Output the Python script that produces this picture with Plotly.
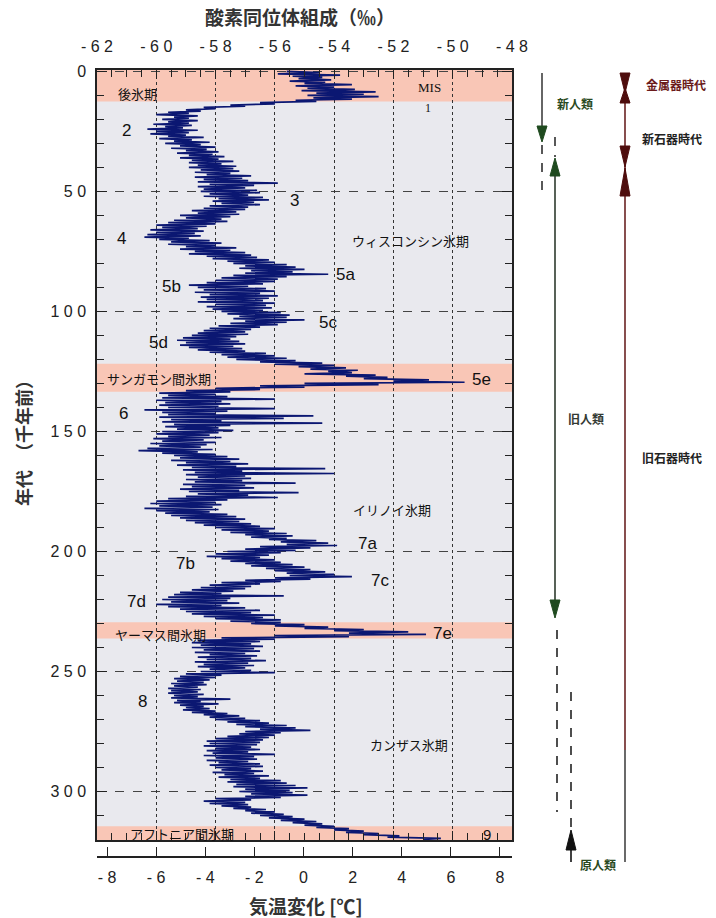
import plotly.graph_objects as go

# ---------------- data ----------------
# The record is read as a dense zig-zag: a left-side value at every whole ky
# and a right-side value at every half ky (‰, oxygen isotope composition).
ages_left = list(range(0, 321))
d18o_left = [
    -55.6, -55.9, -55.4, -55.2, -55.5, -55.0, -55.3, -54.9, -55.1, -54.6,
    -54.9, -54.7, -55.3, -56.5, -57.5, -58.4, -59.0, -59.6, -60.0, -59.4,
    -59.8, -59.6, -60.1, -59.7, -60.3, -60.0, -60.2, -59.6, -59.9, -59.4,
    -59.7, -59.2, -59.5, -59.0, -59.3, -58.9, -59.2, -58.8, -58.9, -58.6,
    -58.9, -58.5, -58.7, -58.3, -58.7, -58.4, -58.6, -58.2, -58.6, -58.4,
    -58.5, -58.2, -58.4, -57.9, -58.1, -57.8, -58.2, -58.4, -58.8, -58.6,
    -59.2, -59.0, -59.4, -59.6, -60.0, -59.8, -60.2, -60.0, -60.3, -60.4,
    -59.9, -59.5, -59.6, -59.0, -59.2, -58.7, -58.9, -58.3, -58.1, -57.6,
    -57.4, -57.0, -57.2, -56.8, -57.0, -57.4, -57.8, -58.0, -58.3, -58.9,
    -58.6, -58.4, -58.7, -58.2, -58.5, -58.3, -58.6, -58.0, -58.3, -58.1,
    -57.8, -57.6, -57.2, -57.4, -57.0, -57.5, -57.9, -58.2, -58.4, -58.6,
    -58.8, -59.1, -59.3, -59.0, -59.2, -58.9, -58.6, -58.2, -57.8, -57.6,
    -57.3, -56.5, -56.0, -55.2, -54.8, -54.2, -55.0, -53.6, -53.0, -52.0,
    -55.0, -56.5, -58.0, -59.0, -59.9, -59.6, -59.8, -60.0, -59.7, -59.9,
    -59.6, -60.4, -59.8, -59.6, -59.9, -59.5, -59.8, -59.4, -59.7, -59.3,
    -59.8, -60.0, -59.6, -60.1, -59.8, -60.2, -59.9, -60.3, -60.6, -59.8,
    -59.4, -59.2, -59.5, -59.0, -59.3, -58.8, -59.1, -58.7, -59.0, -58.6,
    -59.0, -58.7, -59.1, -58.8, -59.2, -58.9, -58.6, -59.0, -59.6, -60.0,
    -60.2, -59.9, -60.4, -60.0, -59.7, -59.5, -59.2, -59.0, -58.7, -58.4,
    -58.0, -57.8, -57.5, -57.0, -56.8, -56.2, -55.8, -55.6, -56.5, -57.0,
    -57.6, -58.0, -58.3, -57.8, -57.5, -57.0, -56.8, -56.3, -56.0, -55.6,
    -55.5, -56.0, -57.0, -57.8, -58.2, -58.5, -58.8, -59.2, -59.4, -59.6,
    -59.8, -59.5, -60.0, -59.6, -59.2, -59.0, -58.8, -58.4, -58.0, -57.5,
    -56.8, -56.0, -55.0, -54.0, -53.5, -56.0, -57.8, -58.6, -58.8, -58.5,
    -58.8, -58.4, -58.7, -58.2, -58.6, -58.3, -58.7, -58.4, -58.6, -58.2,
    -58.5, -59.0, -59.2, -59.4, -59.3, -59.5, -59.4, -59.6, -59.5, -59.6,
    -59.4, -59.5, -59.3, -59.4, -59.2, -59.0, -59.1, -58.8, -58.4, -58.2,
    -58.0, -57.6, -57.3, -57.0, -56.5, -57.0, -57.2, -57.6, -58.0, -58.3,
    -58.2, -58.4, -58.0, -58.3, -58.1, -58.4, -58.0, -58.3, -57.9, -58.2,
    -58.0, -57.8, -58.1, -57.7, -57.9, -57.5, -57.6, -57.3, -57.4, -57.0,
    -57.2, -56.8, -57.0, -58.0, -58.4, -58.2, -57.8, -57.4, -57.0, -56.8,
    -56.5, -56.2, -55.8, -55.4, -55.0, -54.6, -54.0, -53.6, -53.0, -52.2,
    -51.0,
]
ages_right = [a + 0.5 for a in range(0, 320)]
d18o_right = [
    -54.5, -53.8, -54.4, -54.1, -54.3, -53.4, -54.0, -53.3, -52.6, -53.0,
    -52.5, -53.4, -54.6, -56.0, -57.0, -58.0, -58.5, -58.9, -58.6, -58.9,
    -58.6, -58.9, -58.8, -59.1, -58.6, -58.9, -59.0, -58.4, -58.8, -58.2,
    -58.5, -58.0, -58.3, -57.9, -58.1, -57.7, -57.9, -57.4, -57.8, -57.3,
    -57.4, -57.2, -57.5, -56.8, -57.1, -56.9, -55.9, -56.7, -57.0, -56.6,
    -56.5, -56.9, -56.4, -56.2, -56.7, -56.5, -56.9, -57.0, -57.3, -57.2,
    -57.5, -57.8, -57.6, -58.0, -58.3, -58.6, -58.4, -58.7, -58.5, -58.9,
    -58.2, -57.8, -58.0, -57.3, -57.5, -57.0, -56.8, -56.6, -56.2, -56.0,
    -55.6, -55.3, -55.0, -55.4, -54.2, -55.6, -55.9, -56.0, -56.4, -56.9,
    -56.3, -56.0, -56.5, -55.9, -56.2, -56.4, -56.0, -56.3, -56.1, -56.4,
    -55.8, -55.5, -55.6, -55.0, -55.6, -55.9, -56.5, -56.8, -57.0, -56.9,
    -57.3, -57.5, -57.2, -57.0, -57.4, -57.1, -57.0, -56.3, -56.0, -55.6,
    -55.3, -54.4, -54.0, -53.6, -53.2, -53.4, -52.6, -52.2, -50.8, -49.6,
    -52.5, -55.0, -56.5, -57.5, -58.0, -57.6, -56.0, -57.8, -57.5, -57.9,
    -56.0, -57.6, -58.0, -54.7, -55.7, -57.8, -54.4, -57.5, -57.9, -57.4,
    -57.9, -58.2, -57.8, -58.4, -58.0, -58.3, -58.5, -58.1, -58.6, -58.0,
    -57.6, -57.2, -57.5, -56.9, -57.3, -54.3, -57.1, -54.0, -57.0, -56.8,
    -57.1, -55.3, -57.0, -56.7, -57.2, -55.2, -56.9, -55.9, -57.6, -58.0,
    -57.8, -58.1, -57.9, -58.2, -57.6, -57.3, -57.0, -57.2, -56.8, -56.5,
    -56.0, -56.2, -55.6, -55.4, -55.6, -54.6, -54.2, -53.9, -54.8, -55.3,
    -55.8, -56.2, -56.5, -56.0, -55.8, -55.4, -55.0, -54.8, -54.3, -54.0,
    -53.4, -54.8, -55.8, -56.5, -56.8, -57.0, -57.4, -57.8, -55.7, -57.5,
    -57.6, -57.2, -57.8, -57.0, -56.5, -56.8, -56.0, -56.4, -55.8, -55.8,
    -55.0, -54.2, -53.0, -51.5, -50.9, -53.5, -56.0, -56.5, -56.8, -56.4,
    -56.7, -56.5, -57.0, -56.6, -56.8, -56.3, -56.9, -56.7, -57.0, -56.8,
    -56.0, -57.8, -58.0, -58.2, -58.4, -58.3, -58.6, -58.5, -58.6, -58.4,
    -58.6, -57.5, -58.5, -57.9, -58.4, -58.2, -58.0, -57.6, -57.2, -57.0,
    -56.5, -56.2, -55.6, -55.3, -54.8, -55.8, -56.0, -56.2, -56.4, -56.5,
    -56.6, -56.8, -56.5, -56.9, -56.0, -56.7, -56.6, -56.9, -56.5, -56.4,
    -56.8, -56.4, -56.7, -56.2, -56.5, -55.8, -55.6, -55.3, -54.9, -55.5,
    -55.4, -54.9, -55.8, -56.8, -57.0, -56.9, -56.8, -56.3, -56.0, -55.7,
    -55.4, -55.0, -54.6, -54.4, -54.0, -53.5, -53.0, -52.5, -51.8, -50.4,
]

o18_ticks = [-62, -60, -58, -56, -54, -52, -50, -48]
temp_ticks = [-8, -6, -4, -2, 0, 2, 4, 6, 8]
age_ticks = [0, 50, 100, 150, 200, 250, 300]

# interglacial bands (ky)
band_names = ["後氷期", "サンガモン間氷期", "ヤーマス間氷期", "アフトニア間氷期"]
band_start = [-0.6, 121.8, 229.5, 314.5]
band_end = [12.5, 133.4, 236.2, 320.2]
band_label_x = [-60.65, -59.91, -59.87, -59.13]
band_label_y = [9.0, 128.1, 234.4, 317.3]

# marine isotope stage labels (‰ position, age position)
stage_text = ["2", "3", "4", "5a", "5b", "5c", "5d", "5e", "6", "7a", "7b", "7c", "7d", "7e", "8"]
stage_x = [-60.99, -55.35, -61.16, -53.63, -59.49, -54.21, -59.94, -49.04, -61.12, -52.89, -59.03, -52.45, -60.68, -50.33, -60.45]
stage_y = [24.4, 53.9, 69.8, 84.4, 89.4, 104.8, 113.1, 128.5, 142.3, 196.5, 204.8, 211.9, 221.0, 234.0, 262.3]

glacial_text = ["ウィスコンシン氷期", "イリノイ氷期", "カンザス氷期"]
glacial_x = [-51.44, -52.05, -51.46]
glacial_y = [70.6, 182.3, 280.6]

# merge both read-off sides into one record ordered by age
record = sorted(list(zip(ages_left, d18o_left)) + list(zip(ages_right, d18o_right)))
rec_age = [r[0] for r in record]
rec_val = [r[1] for r in record]

W, H = 716, 918
def px(x):
    return x / W
def py(y):
    return 1 - y / H

X0, X1 = 97, 512          # plot box, pixels
Y0, Y1 = 70, 840

fig = go.Figure()
# invisible trace so that the lower (°C) axis exists
fig.add_trace(go.Scatter(x=[0], y=[0], mode="markers", marker=dict(opacity=0),
                         hoverinfo="skip", showlegend=False, xaxis="x", yaxis="y"))
fig.add_trace(go.Scatter(x=rec_val, y=rec_age, mode="lines",
                         line=dict(color="#0b1772", width=1.7),
                         xaxis="x2", yaxis="y", showlegend=False))

dark = "#222222"
sans = "Liberation Sans"
jp = "Noto Sans CJK JP"

fig.update_layout(
    template="none",
    width=W, height=H,
    margin=dict(l=0, r=0, t=0, b=0, autoexpand=False),
    paper_bgcolor="white",
    plot_bgcolor="#e9e9ee",
    showlegend=False,
    xaxis=dict(
        domain=[px(X0), px(X1)], anchor="free", position=py(857), automargin=False,
        range=[-8.407, 8.489], tickmode="array", tickvals=temp_ticks,
        ticktext=[(f"-{abs(v)}" if v < 0 else str(v)).replace("-", "- ") for v in temp_ticks],
        ticks="inside", ticklen=9, tickwidth=1.3, tickcolor=dark,
        showline=True, linecolor=dark, linewidth=1.5,
        showgrid=False, zeroline=False,
        tickfont=dict(family=sans, size=16, color=dark), ticklabelstandoff=6,
    ),
    xaxis2=dict(
        overlaying="x", side="top", anchor="y", automargin=False,
        range=[-62, -48], tickmode="array", tickvals=o18_ticks,
        ticktext=[" ".join(str(v)) for v in o18_ticks],
        ticks="inside", ticklen=9, tickwidth=1.2, tickcolor=dark,
        minor=dict(tickmode="linear", tick0=-62, dtick=0.5, ticks="inside",
                   ticklen=7, tickcolor=dark, showgrid=False),
        showline=True, mirror="ticks", linecolor=dark, linewidth=1.5,
        showgrid=True, gridcolor="#333333", griddash="dot", gridwidth=1,
        zeroline=False,
        tickfont=dict(family=sans, size=16, color=dark), ticklabelstandoff=10,
    ),
    yaxis=dict(
        domain=[py(Y1), py(Y0)], anchor="x2", automargin=False,
        range=[320.2, -0.6], tickmode="array", tickvals=age_ticks,
        ticktext=[" ".join(str(v)) for v in age_ticks],
        ticks="inside", ticklen=10, tickwidth=1.3, tickcolor=dark,
        minor=dict(tickmode="linear", tick0=0, dtick=10, ticks="inside",
                   ticklen=7, tickcolor=dark, showgrid=False),
        showline=True, mirror="ticks", linecolor=dark, linewidth=1.5,
        showgrid=True, gridcolor="#444444", griddash="dash", gridwidth=1,
        zeroline=False,
        tickfont=dict(family=sans, size=16, color=dark), ticklabelstandoff=6,
    ),
)

shapes = []
for s, e in zip(band_start, band_end):
    shapes.append(dict(type="rect", xref="x2 domain", yref="y", x0=0, x1=1, y0=s, y1=e,
                       fillcolor="#f9c6b6", line=dict(width=0), layer="below"))

def vline(x, y0, y1, color, width=1.5, dash="solid"):
    shapes.append(dict(type="line", xref="paper", yref="paper",
                       x0=px(x), x1=px(x), y0=py(y0), y1=py(y1),
                       line=dict(color=color, width=width, dash=dash)))

def tri(x, tip, base, half, color):
    path = (f"M {px(x - half)},{py(base)} L {px(x + half)},{py(base)} "
            f"L {px(x)},{py(tip)} Z")
    shapes.append(dict(type="path", xref="paper", yref="paper", path=path,
                       fillcolor=color, line=dict(color=color, width=1)))

green = "#1f4a1f"
gline = "#2e3a2e"
red = "#4e0d0d"
# humans column
vline(542, 73, 130, "#333333", 1.5)
tri(542, 142, 126, 5, green)
vline(542, 145, 197, "#222222", 1.5, "dash")
vline(555, 137, 157, "#222222", 1.5, "dash")
tri(555, 158, 176, 5, green)
vline(555, 176, 602, gline, 1.6)
tri(555, 618, 600, 5, green)
vline(557, 630, 812, "#222222", 1.6, "dash")
vline(571, 692, 827, "#222222", 1.6, "dash")
tri(571, 830, 850, 5, "#111111")
vline(571, 850, 862, "#111111", 1.6)
# culture column
vline(625, 73, 750, "#6a2222", 1.6)
vline(625, 750, 862, "#444444", 1.6)
tri(625, 93, 73, 5, red)
tri(625, 88, 103, 5, red)
tri(625, 167, 146, 5, red)
tri(625, 168, 196, 5, red)

fig.update_layout(shapes=shapes)

ann = []
def label(text, x, y, size=14, color="#111111", family=jp, xanchor="center", angle=0, xref="paper", yref="paper"):
    ann.append(dict(text=text, x=x, y=y, xref=xref, yref=yref, showarrow=False,
                    xanchor=xanchor, yanchor="middle", textangle=angle,
                    font=dict(family=family, size=size, color=color)))

# axis titles
label("<b>酸素同位体組成（‰）</b>", px(300), py(17), size=19, color="#333333")
label("<b>気温変化 [℃]</b>", px(306), py(905), size=19, color="#333333")
label("<b>年代　（千年前）</b>", px(23), py(439), size=18, color="#333333", angle=-90)

# band names
for t, x, y in zip(band_names, band_label_x, band_label_y):
    label(t, x, y, size=13, xref="x2", yref="y")
label("MIS", -50.8, 6.5, size=13, family="Liberation Serif", xref="x2", yref="y")
label("1", -50.85, 15.2, size=12, family="Liberation Serif", xref="x2", yref="y")
label("9", -48.84, 318.0, size=15, family=sans, xref="x2", yref="y")

for t, x, y in zip(stage_text, stage_x, stage_y):
    label(t, x, y, size=17, family=sans, xref="x2", yref="y")
for t, x, y in zip(glacial_text, glacial_x, glacial_y):
    label(t, x, y, size=13, xref="x2", yref="y")

# right-side labels
label("<b>新人類</b>", px(575), py(103), size=12, color="#2a4a22")
label("<b>旧人類</b>", px(586), py(418), size=12, color="#333a33")
label("<b>原人類</b>", px(598), py(864), size=12, color="#2a4a22")
label("<b>金属器時代</b>", px(676), py(85), size=12, color="#6b1b1b")
label("<b>新石器時代</b>", px(672), py(138), size=12, color="#222222")
label("<b>旧石器時代</b>", px(672), py(458), size=12, color="#222222")

fig.update_layout(annotations=ann)
fig.write_html("out.html", config={"displayModeBar": False},
               post_script="document.body.style.margin='0';")
